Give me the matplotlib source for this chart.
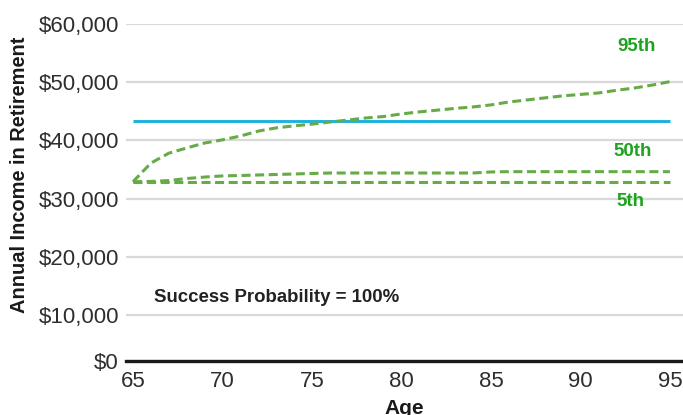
import matplotlib
matplotlib.use("Agg")
import matplotlib.pyplot as plt
import numpy as np

plt.rcParams['font.family'] = ['Liberation Sans', 'DejaVu Sans']

# Ages and projected annual retirement income by percentile
ages = list(range(65, 96))
p95 = [32900, 36100, 37800, 38700, 39550, 40100, 40750, 41600, 42150, 42500,
       42800, 43150, 43500, 43850, 44100, 44550, 44900, 45200, 45500, 45750,
       46100, 46600, 46950, 47300, 47650, 47900, 48150, 48600, 49000, 49500,
       50100]
p50 = [32900, 32950, 33100, 33450, 33700, 33900, 33970, 34060, 34140, 34230,
       34320, 34400, 34400, 34400, 34400, 34400, 34400, 34400, 34400, 34400,
       34580, 34630, 34630, 34630, 34630, 34630, 34630, 34630, 34630, 34630,
       34630]
p5 = [32880] * len(ages)
target_income = 43300

y_floor = 2100
y_ticks = [y_floor, 10000, 20000, 30000, 40000, 50000, 60000]
y_tick_labels = ['$0', '$10,000', '$20,000', '$30,000', '$40,000', '$50,000', '$60,000']
x_ticks = [65, 70, 75, 80, 85, 90, 95]

W, H = 683, 415
fig = plt.figure(figsize=(W / 100, H / 100), dpi=100)
ax = fig.add_axes([126 / W, (H - 361) / H, (W - 126) / W, (361 - 24) / H])

green = '#67ab47'
ax.plot([ages[0], ages[-1]], [target_income, target_income], color='#1cb2e0',
        lw=2.1, solid_capstyle='butt', zorder=3)
for series in (p95, p50, p5):
    ax.plot(ages, series, color=green, lw=2.2, dashes=(2.95, 1.5), zorder=4)

ax.set_xlim(64.61, 95.73)
ax.set_ylim(y_floor, 60000)
ax.set_yticks(y_ticks)
ax.set_yticklabels(y_tick_labels)
ax.set_xticks(x_ticks)
ax.set_xticklabels([str(t) for t in x_ticks])

ax.grid(axis='y', color='#d9d9d9', lw=1.6, zorder=0)
for s in ('top', 'right', 'left'):
    ax.spines[s].set_visible(False)
ax.spines['bottom'].set_color('#1a1a1a')
ax.spines['bottom'].set_linewidth(2.4)
ax.spines['bottom'].set_zorder(5)
ax.tick_params(axis='both', length=0, labelsize=16, labelcolor='#2e2e2e')
ax.tick_params(axis='y', pad=5)
ax.tick_params(axis='x', pad=7)

fig.text(404 / W, 1 - 408 / H, 'Age', ha='center', va='center', fontsize=15,
         fontweight='bold', color='#1a1a1a')
fig.text(20 / W, 1 - 175 / H, 'Annual Income in Retirement', rotation=90,
         ha='center', va='center', fontsize=14.4, fontweight='bold', color='#1a1a1a')

ax.text(93.16, 56050, '95th', color='#1ea31e', fontsize=13.5, fontweight='bold',
        ha='center', va='center')
ax.text(92.93, 38010, '50th', color='#1ea31e', fontsize=13.5, fontweight='bold',
        ha='center', va='center')
ax.text(92.8, 29420, '5th', color='#1ea31e', fontsize=13.5, fontweight='bold',
        ha='center', va='center')
ax.text(66.17, 12930, 'Success Probability = 100%', color='#222222', fontsize=13.4,
        fontweight='bold', ha='left', va='center')

fig.savefig('out.png', dpi=100)
